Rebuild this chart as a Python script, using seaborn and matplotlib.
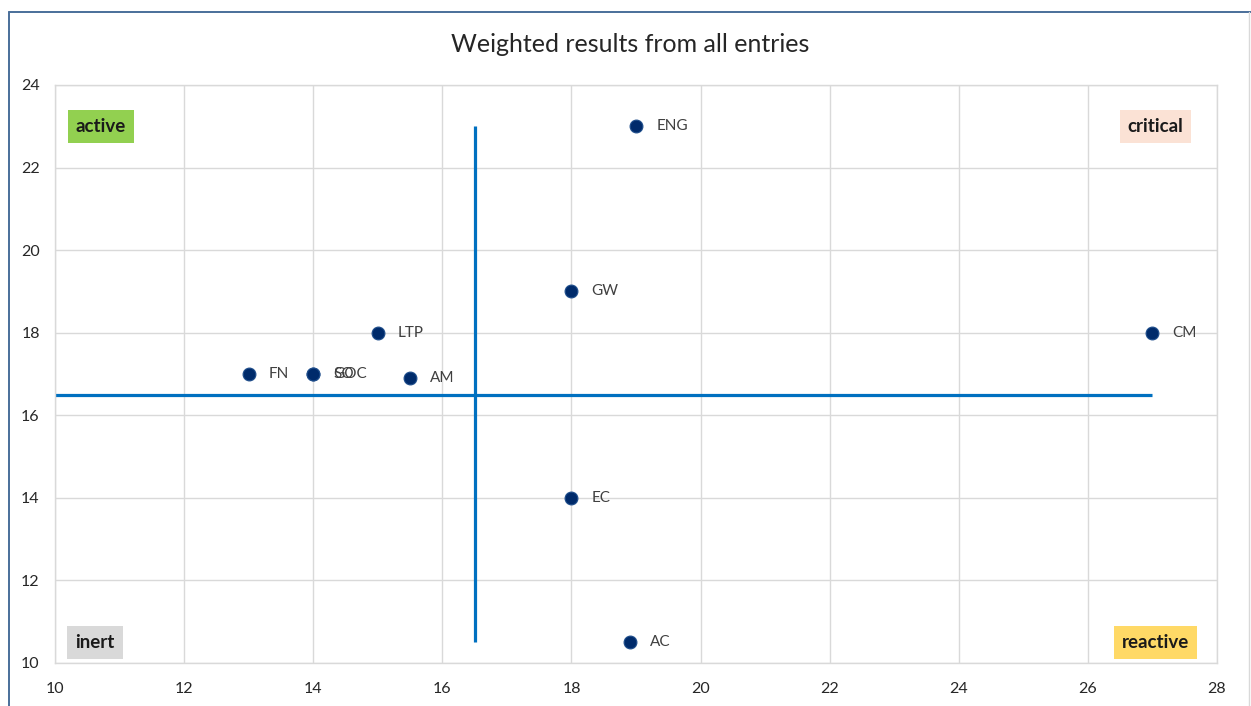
import matplotlib
matplotlib.use("Agg")
import matplotlib.pyplot as plt
import seaborn as sns
import pandas as pd
from matplotlib.lines import Line2D

# Scored entries
labels = ["ENG", "GW", "CM", "LTP", "FN", "SO", "GOC", "AM", "EC", "AC"]
x_vals = [19.0, 18.0, 27.0, 15.0, 13.0, 14.0, 14.0, 15.5, 18.0, 18.9]
y_vals = [23.0, 19.0, 18.0, 18.0, 17.0, 17.0, 17.0, 16.9, 14.0, 10.5]

# Quadrant divider lines
vline_x = [16.5, 16.5]
vline_y = [10.5, 23.0]
hline_x = [10.0, 27.0]
hline_y = [16.5, 16.5]

# Quadrant names
quad_names = ["active", "critical", "inert", "reactive"]
quad_x = [10.71, 27.05, 10.62, 27.04]
quad_y = [23.0, 23.0, 10.5, 10.5]
quad_fill = ["#92D050", "#FBE2D5", "#D9D9D9", "#FFD966"]

x_ticks = [10, 12, 14, 16, 18, 20, 22, 24, 26, 28]
y_ticks = [10, 12, 14, 16, 18, 20, 22, 24]

title = "Weighted results from all entries"

sns.set_theme(style="white")
plt.rcParams["font.family"] = ["Lato", "DejaVu Sans"]

df = pd.DataFrame({"label": labels, "x": x_vals, "y": y_vals})

fig = plt.figure(figsize=(12.51, 7.06), dpi=100)
fig.patch.set_facecolor("white")
ax = fig.add_axes([55 / 1251, 1 - 663 / 706, (1217 - 55) / 1251, (663 - 85) / 706])

grid_c = "#D9D9D9"
ax.set_xlim(10, 28)
ax.set_ylim(10, 24)
ax.set_xticks(x_ticks)
ax.set_yticks(y_ticks)
ax.grid(True, color=grid_c, linewidth=1.0)
ax.set_axisbelow(True)
for s in ax.spines.values():
    s.set_color(grid_c)
    s.set_linewidth(1.0)
ax.tick_params(axis="both", length=0, labelsize=11.5, labelcolor="#262626")
ax.tick_params(axis="x", pad=14)
ax.tick_params(axis="y", pad=11)

line_c = "#0070C0"
ax.plot(vline_x, vline_y, color=line_c, linewidth=2.3, solid_capstyle="butt", zorder=2)
ax.plot(hline_x, hline_y, color=line_c, linewidth=2.3, solid_capstyle="butt", zorder=2)

sns.scatterplot(data=df, x="x", y="y", ax=ax, s=85, color="#002B6B",
                edgecolor="#1F4E8C", linewidth=0.8, zorder=3, legend=False)

for lab, xv, yv in zip(labels, x_vals, y_vals):
    ax.annotate(lab, (xv, yv), xytext=(14.5, 0), textcoords="offset points",
                ha="left", va="center", fontsize=11, color="#404040", zorder=4)

for name, xv, yv, fc in zip(quad_names, quad_x, quad_y, quad_fill):
    ax.text(xv, yv, name, ha="center", va="center", fontsize=13.5, fontweight="bold",
            color="#1A1A1A", zorder=4,
            bbox=dict(boxstyle="square,pad=0.42", facecolor=fc, edgecolor="none"))

ax.set_xlabel("")
ax.set_ylabel("")

fig.text(630 / 1251, 1 - 45 / 706, title, ha="center", va="center",
         fontsize=18, color="#262626")

# Chart frame
frame_c = "#4A6F9A"
fig.add_artist(Line2D([9 / 1251, 9 / 1251], [0, 1 - 12 / 706], color=frame_c,
                      linewidth=1.4, transform=fig.transFigure))
fig.add_artist(Line2D([9 / 1251, 1], [1 - 12 / 706, 1 - 12 / 706], color=frame_c,
                      linewidth=1.4, transform=fig.transFigure))
fig.add_artist(Line2D([1249 / 1251, 1249 / 1251], [0, 1 - 12 / 706], color="#D9D9D9",
                      linewidth=1.0, transform=fig.transFigure))

ax.set_xticklabels([str(t) for t in x_ticks])
ax.set_yticklabels([str(t) for t in y_ticks])

fig.savefig("out.png", dpi=100)
